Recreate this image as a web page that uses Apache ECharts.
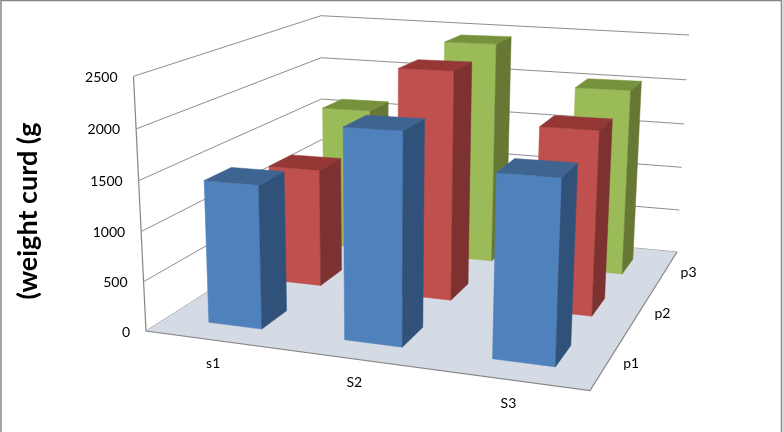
<!DOCTYPE html>
<html><head><meta charset="utf-8">
<style>html,body{margin:0;padding:0;background:#fff}#c{width:783px;height:432px}</style>
<script src="https://cdn.jsdelivr.net/npm/echarts@6/dist/echarts.min.js"></script>
</head><body><div id="c"></div>
<script>
const categories = ['s1', 'S2', 'S3'];
const depths = ['p1', 'p2', 'p3'];
const yTicks = [0, 500, 1000, 1500, 2000, 2500];
const p1Values = [1445, 2060, 1740];
const p2Values = [1260, 2370, 1865];
const p3Values = [1620, 2430, 2000];
const yTitle = '(weight curd (g';

const floorQuad = [[146, 331], [590, 390.5], [677, 252], [322, 219]];
const roofPts = [[0, 0, 133.5, 76.3], [0, 1, 321, 15.7], [1, 1, 689, 35]];
const barFill = 0.40;
const uShift = 0.006;
const palette = [
  { front: '#4F81BD', top: '#3E6491', side: '#30527A' },
  { front: '#C0504D', top: '#953735', side: '#7D3130' },
  { front: '#9BBB59', top: '#76923C', side: '#667833' }
];
const font = '14px Lato';

function floorHomog(q) {
  const [[x0, y0], [x1, y1], [x2, y2], [x3, y3]] = q;
  const dx1 = x1 - x2, dx2 = x3 - x2, sx = x0 - x1 + x2 - x3;
  const dy1 = y1 - y2, dy2 = y3 - y2, sy = y0 - y1 + y2 - y3;
  const den = dx1 * dy2 - dx2 * dy1;
  const g = (sx * dy2 - dx2 * sy) / den, h = (dx1 * sy - sx * dy1) / den;
  const a = x1 - x0 + g * x1, b = x3 - x0 + h * x3, d = y1 - y0 + g * y1, e = y3 - y0 + h * y3;
  return (u, v) => [a * u + b * v + x0, d * u + e * v + y0, g * u + h * v + 1];
}
const F = floorHomog(floorQuad);
// Height column of the projection, least-squares fit to the wall's top corners
function fitHeight() {
  const rows = [];
  roofPts.forEach(([u, v, x, y]) => {
    const [X, Y, W] = F(u, v);
    rows.push([1, 0, -x, x * W - X]);
    rows.push([0, 1, -y, y * W - Y]);
  });
  const A = [[0,0,0,0],[0,0,0,0],[0,0,0,0]];
  rows.forEach(r => { for (let i = 0; i < 3; i++) { for (let j = 0; j < 3; j++) A[i][j] += r[i] * r[j]; A[i][3] += r[i] * r[3]; } });
  for (let i = 0; i < 3; i++) {
    const p = A[i][i];
    for (let j = i; j < 4; j++) A[i][j] /= p;
    for (let k = 0; k < 3; k++) if (k !== i) { const f = A[k][i]; for (let j = i; j < 4; j++) A[k][j] -= f * A[i][j]; }
  }
  return [A[0][3], A[1][3], A[2][3]];
}
const D = fitHeight();
function P(u, v, h) {
  const [X, Y, W] = F(u, v), w = W + D[2] * h;
  return [(X + D[0] * h) / w, (Y + D[1] * h) / w];
}
// Point on a wall corner edge: runs from the floor corner up to the measured wall top
function wallPoint(i, h) {
  const [u, v, x, y] = roofPts[i];
  const f = P(u, v, 0), k = 0.96, t = h * k / (1 + h * (k - 1));
  return [f[0] + (x - f[0]) * t, f[1] + (y - f[1]) * t];
}
const gridLeft = 146, gridWidth = 444, gridTop = 76, gridHeight = 255;
function norm(api, cat, val) {
  const c = api.coord([cat, val]);
  return [(c[0] - gridLeft) / gridWidth, (gridTop + gridHeight - c[1]) / gridHeight];
}

function barSeries(values, depthIdx) {
  return {
    type: 'custom', coordinateSystem: 'cartesian2d', clip: false, silent: true, z: 5,
    encode: { x: 0, y: 1 }, data: values.map((v, i) => [i, v]),
    renderItem(params, api) {
      const [uc0, h] = norm(api, api.value(0), api.value(1));
      const uc = uc0 + uShift;
      const cell = 1 / 3, hw = cell * barFill / 2;
      const u0 = uc - hw, u1 = uc + hw;
      const v0 = (depthIdx + 0.5) * cell - hw, v1 = (depthIdx + 0.5) * cell + hw;
      const col = palette[depthIdx];
      const poly = (pts, fill) => ({ type: 'polygon', shape: { points: pts }, style: { fill, stroke: fill, lineWidth: 0.5 } });
      return { type: 'group', children: [
        poly([P(u0, v0, 0), P(u1, v0, 0), P(u1, v0, h), P(u0, v0, h)], col.front),
        poly([P(u1, v0, 0), P(u1, v1, 0), P(u1, v1, h), P(u1, v0, h)], col.side),
        poly([P(u0, v0, h), P(u1, v0, h), P(u1, v1, h), P(u0, v1, h)], col.top)
      ] };
    }
  };
}

const wallSeries = {
  type: 'custom', coordinateSystem: 'cartesian2d', clip: false, silent: true, z: 2,
  encode: { y: 1 }, data: yTicks.map(t => [0, t]),
  renderItem(params, api) {
    const val = api.value(1);
    const h = norm(api, 0, val)[1];
    const a = wallPoint(0, h), d = wallPoint(1, h), c = wallPoint(2, h);
    return { type: 'group', children: [
      { type: 'polyline', shape: { points: [a, d, c] }, style: { fill: 'none', stroke: '#8E8E8E', lineWidth: 1 } },
      { type: 'text', style: { x: a[0] - 16, y: a[1] + 1, text: String(val), align: 'right', verticalAlign: 'middle', fill: '#000', font } }
    ] };
  }
};
const floorSeries = {
  type: 'custom', coordinateSystem: 'cartesian2d', clip: false, silent: true, z: 3,
  encode: { y: 1 }, data: [[0, 0]],
  renderItem() {
    const a = P(0, 0, 0), b = P(1, 0, 0), c = P(1, 1, 0), d = P(0, 1, 0);
    return { type: 'group', children: [
      { type: 'polygon', shape: { points: [a, b, c, d] }, style: { fill: '#D5DBE4' } },
      { type: 'polyline', shape: { points: [wallPoint(0, 1), a, b, c] }, style: { fill: 'none', stroke: '#868686', lineWidth: 1.2 } }
    ] };
  }
};
const catLabels = {
  type: 'custom', coordinateSystem: 'cartesian2d', clip: false, silent: true, z: 6,
  encode: { x: 0 }, data: categories.map((c, i) => [i, 0]),
  renderItem(params, api) {
    const u = norm(api, api.value(0), 0)[0];
    const p = P(u, 0, 0);
    return { type: 'text', style: { x: p[0] + 1, y: p[1] + 24, text: categories[api.value(0)], align: 'center', verticalAlign: 'middle', fill: '#000', font } };
  }
};
const depthLabels = {
  type: 'custom', coordinateSystem: 'cartesian2d', clip: false, silent: true, z: 6,
  encode: { y: 1 }, data: depths.map((d, i) => [i, 0]),
  renderItem(params, api) {
    const i = api.value(0);
    const p = P(1, (i + 0.5) / 3, 0);
    return { type: 'text', style: { x: p[0] + 15, y: p[1] + 2, text: depths[i], align: 'left', verticalAlign: 'middle', fill: '#000', font } };
  }
};

const chart = echarts.init(document.getElementById('c'), null, { renderer: 'canvas' });
chart.setOption({
  animation: false,
  backgroundColor: '#fff',
  grid: { left: gridLeft, width: gridWidth, top: gridTop, height: gridHeight },
  xAxis: { type: 'category', data: categories, show: false },
  yAxis: { type: 'value', min: 0, max: 2500, interval: 500, show: false },
  graphic: [
    { type: 'rect', shape: { x: 1, y: 0.5, width: 780.5, height: 440 }, style: { fill: 'none', stroke: '#868686', lineWidth: 1.5 }, silent: true },
    { type: 'text', x: 28, y: 211, rotation: Math.PI / 2, style: { text: yTitle, align: 'center', verticalAlign: 'middle', fill: '#000', font: 'bold 27px Lato' }, silent: true }
  ],
  series: [wallSeries, floorSeries, barSeries(p3Values, 2), barSeries(p2Values, 1), barSeries(p1Values, 0), catLabels, depthLabels]
});
</script></body></html>
